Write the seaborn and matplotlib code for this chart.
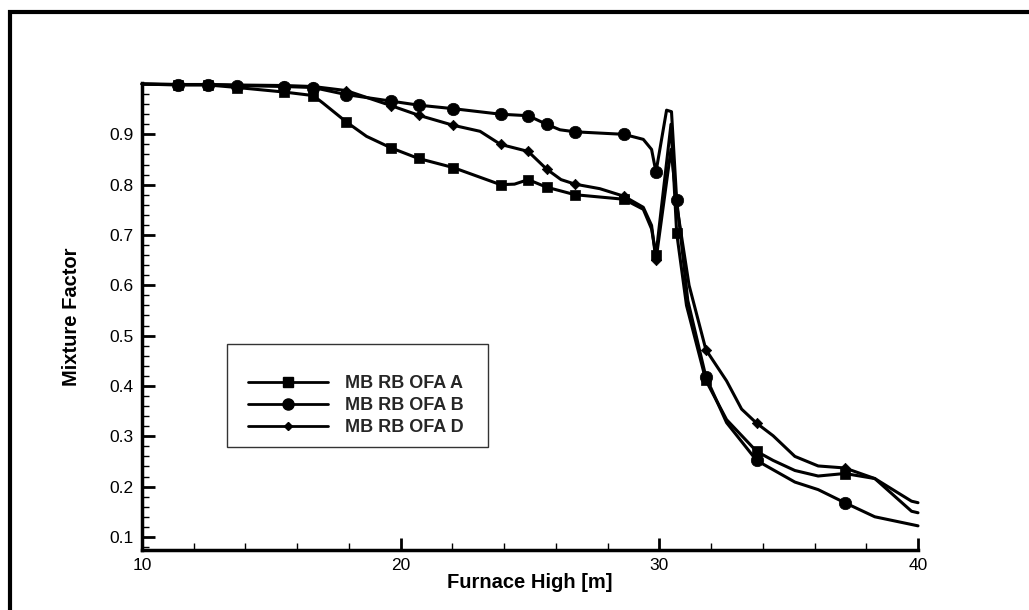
import matplotlib
matplotlib.use("Agg")
import matplotlib.pyplot as plt
from matplotlib.lines import Line2D
from matplotlib.patches import Rectangle
from matplotlib.ticker import MultipleLocator
import seaborn as sns

# ---------------- data ----------------
a_x = [10, 11.38, 12.57, 13.69, 15.50, 16.62, 17.0, 17.89, 18.68, 19.63, 20.69, 22.03,
       23.86, 24.4, 24.93, 25.64, 26.74, 28.63, 29.38, 29.70, 29.87, 30.45, 30.67,
       31.05, 31.8, 32.6, 33.76, 34.4, 35.24, 36.14, 37.17, 38.33, 39.75, 40]
a_y = [1.0, 0.998, 0.998, 0.993, 0.984, 0.977, 0.962, 0.925, 0.896, 0.873, 0.852, 0.834,
       0.800, 0.801, 0.810, 0.795, 0.780, 0.771, 0.751, 0.712, 0.660, 0.920, 0.704,
       0.560, 0.411, 0.333, 0.270, 0.252, 0.232, 0.221, 0.226, 0.216, 0.171, 0.168]
a_marks = [1, 2, 3, 4, 5, 7, 9, 10, 11, 12, 14, 15, 16, 17, 20, 22, 24, 26, 30]

b_x = [10, 11.38, 12.57, 13.69, 15.50, 16.62, 17.89, 19.63, 20.69, 22.03, 23.86, 24.93,
       25.64, 26.16, 26.74, 28.63, 29.38, 29.70, 29.87, 30.28, 30.47, 30.67, 31.1, 31.8,
       32.6, 33.76, 35.24, 36.14, 37.17, 38.33, 40]
b_y = [1.0, 0.999, 0.999, 0.997, 0.995, 0.993, 0.979, 0.966, 0.958, 0.951, 0.940, 0.937,
       0.920, 0.909, 0.905, 0.900, 0.890, 0.870, 0.825, 0.948, 0.945, 0.770, 0.570, 0.418,
       0.327, 0.252, 0.209, 0.194, 0.168, 0.140, 0.122]
b_marks = [1, 2, 3, 4, 5, 6, 7, 8, 9, 10, 11, 12, 14, 15, 18, 21, 23, 25, 28]

d_x = [10, 11.38, 12.57, 13.69, 15.50, 16.62, 17.89, 19.63, 20.69, 22.03, 23.07, 23.86,
       24.93, 25.64, 26.2, 26.74, 27.7, 28.63, 29.38, 29.70, 29.87, 30.45, 30.7, 31.15,
       31.8, 32.6, 33.18, 33.76, 34.4, 35.24, 36.14, 37.17, 38.33, 39.75, 40]
d_y = [1.0, 0.999, 0.999, 0.998, 0.997, 0.995, 0.987, 0.957, 0.938, 0.918, 0.906, 0.880,
       0.866, 0.831, 0.810, 0.801, 0.792, 0.777, 0.755, 0.719, 0.650, 0.870, 0.750, 0.600,
       0.472, 0.410, 0.354, 0.326, 0.301, 0.260, 0.241, 0.237, 0.216, 0.151, 0.148]
d_marks = [4, 5, 6, 7, 8, 9, 11, 12, 13, 15, 17, 20, 24, 27, 31]

labels = ["MB RB OFA A", "MB RB OFA B", "MB RB OFA D"]
x_ticks = [10, 20, 30, 40]
y_ticks = [0.1, 0.2, 0.3, 0.4, 0.5, 0.6, 0.7, 0.8, 0.9]
x_label = "Furnace High [m]"
y_label = "Mixture Factor"

# ---------------- figure ----------------
sns.set_theme(style="ticks")
plt.rcParams["font.family"] = ["Liberation Sans", "DejaVu Sans"]

W, H = 1029, 610
fig = plt.figure(figsize=(W / 100, H / 100), dpi=100)
fig.patch.set_facecolor("white")
ax = fig.add_axes([142 / W, (H - 550) / H, (918 - 142) / W, (550 - 83) / H])
ax.set_facecolor("white")

series = [
    (a_x, a_y, a_marks, "s", 50),
    (b_x, b_y, b_marks, "o", 80),
    (d_x, d_y, d_marks, "D", 28),
]
for xs, ys, mk, m, s in series:
    sns.lineplot(x=xs, y=ys, ax=ax, color="black", linewidth=2.2,
                 estimator=None, sort=False, legend=False, clip_on=False)
    sns.scatterplot(x=[xs[i] for i in mk], y=[ys[i] for i in mk], ax=ax,
                    marker=m, s=s, color="black", edgecolor="black",
                    linewidth=0.5, legend=False, zorder=3, clip_on=False)

ax.set_xlim(10, 40)
ax.set_ylim(0.074, 1.002)
ax.set_xticks(x_ticks)
ax.set_xticklabels([str(t) for t in x_ticks])
ax.set_yticks(y_ticks)
ax.set_yticklabels([f"{t:.1f}" for t in y_ticks])
ax.xaxis.set_minor_locator(MultipleLocator(2))
ax.yaxis.set_minor_locator(MultipleLocator(0.02))
ax.tick_params(which="major", direction="in", length=9, width=2, labelsize=12.5,
               colors="black", pad=6)
ax.tick_params(which="minor", direction="in", length=5, width=1, colors="black")
for sp in ["top", "right"]:
    ax.spines[sp].set_visible(False)
for sp in ["left", "bottom"]:
    ax.spines[sp].set_linewidth(2.5)
    ax.spines[sp].set_color("black")

ax.set_xlabel(x_label, fontsize=14.5, fontweight="bold", color="black")
ax.set_ylabel(y_label, fontsize=14.5, fontweight="bold", color="black")
ax.xaxis.set_label_coords(0.5, -(573 - 550) / 467)
ax.yaxis.set_label_coords(-(142 - 81) / 776, 0.5)

# legend
handles = [
    Line2D([], [], color="black", lw=2, marker="s", markersize=6.5),
    Line2D([], [], color="black", lw=2, marker="o", markersize=8),
    Line2D([], [], color="black", lw=2, marker="D", markersize=4.5),
]
ax.legend(handles, labels, loc="upper left",
          bbox_to_anchor=(248 / W, 1 - 375 / H), bbox_transform=fig.transFigure,
          frameon=False, prop={"weight": "bold", "size": 13},
          handlelength=4.45, handletextpad=0.9, labelspacing=0.29,
          borderpad=0, borderaxespad=0)
fig.add_artist(Rectangle((227 / W, 1 - 447 / H), (488 - 227) / W, (447 - 344) / H,
                         transform=fig.transFigure, fill=False,
                         edgecolor="#333333", linewidth=1))

# outer frame (cut off at right and bottom)
fig.add_artist(Rectangle((10 / W, -0.05), 1.1, 1.05 - 12 / H,
                         transform=fig.transFigure, fill=False,
                         edgecolor="black", linewidth=3))

fig.savefig("out.png", dpi=100)
